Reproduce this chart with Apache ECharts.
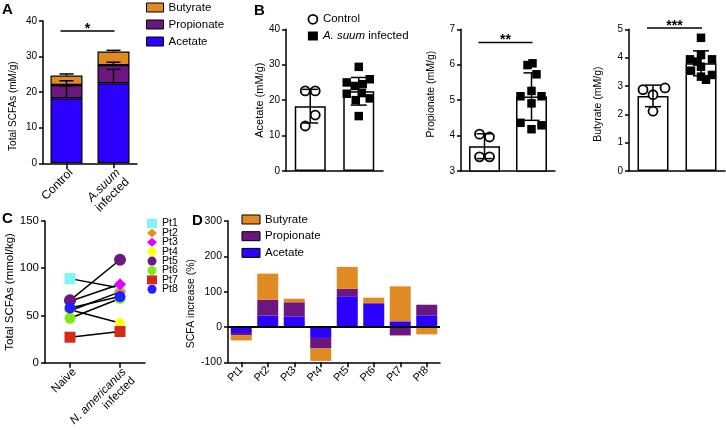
<!DOCTYPE html>
<html><head><meta charset="utf-8">
<script src="https://cdn.jsdelivr.net/npm/echarts@6/dist/echarts.min.js"></script>
<style>html,body{margin:0;padding:0;background:#fff}#c{width:726px;height:430px}</style>
</head><body><div id="c"></div>
<script>
const FONT = "'Liberation Sans', Arial, Helvetica, sans-serif";

// ---------- Panel A: stacked means (mM/g) ----------
const groupsA = ['Control', 'A.suum infected'];
const acetateA = [18.3, 22.5];
const propionateA = [3.7, 5.1];
const butyrateA = [2.65, 3.8];
const acetateErrA = [3.5, 3.9];
const propionateErrA = [1.2, 0.8];
const butyrateErrA = [0.45, 0.35];

// ---------- Panel B: individual values ----------
const groupsB = ['Control', 'A. suum infected'];
const acetateCtrl = [22.6, 22.6, 15.8, 12.7];
const acetateInf = [29.4, 25.9, 25.0, 24.0, 24.5, 21.8, 22.0, 20.0, 20.5, 15.5];
const acetateMean = [18.3, 22.5];
const acetateSD = [4.75, 3.9];
const propionateCtrl = [4.04, 3.96, 3.40, 3.40];
const propionateInf = [5.99, 6.04, 5.73, 5.26, 5.11, 5.11, 4.91, 4.36, 4.29, 4.18];
const propionateMean = [3.7, 5.1];
const propionateSD = [0.35, 0.67];
const butyrateCtrl = [2.87, 2.93, 2.69, 2.11];
const butyrateInf = [4.70, 4.09, 3.94, 3.94, 3.86, 3.68, 3.54, 3.39, 3.33, 3.22];
const butyrateMean = [2.65, 3.8];
const butyrateSD = [0.38, 0.44];

// ---------- Panel C ----------
const patients = ['Pt1', 'Pt2', 'Pt3', 'Pt4', 'Pt5', 'Pt6', 'Pt7', 'Pt8'];
const groupsC = ['Naive', 'N. americanus infected'];
const naiveC = [89, 55, 65, 56, 66, 47, 27, 58];
const infectedC = [79, 75, 83, 42, 109, 68, 33, 70];

// ---------- Panel D (% increase) ----------
const acetateD = [-17, 32, 30, -31, 87, 66, 16, 33];
const propionateD = [-6, 45, 40, -30, 21, 2, -24, 30];
const butyrateD = [-15, 74, 10, -35, 62, 15, 99, -21];

// ---------- layout / style constants ----------
const COL = { Acetate: '#2B00FF', Propionate: '#6C1680', Butyrate: '#E08A24' };
const PT_STYLE = [
  ['rect', '#7FF5F5', 11], ['diamond', '#E8901E', 12], ['diamond', '#E600FF', 12], ['circle', '#FFFF1A', 10],
  ['circle', '#6A1A7E', 12], ['circle', '#80E81A', 11], ['rect', '#D42A1A', 11], ['circle', '#1F1FFF', 11]
];
// horizontal jitter (px) of the individual dots, column-scatter layout
const JIT = {
  acetate: [[-5, 5, 5, -5], [0, 11, -12, -4, 4, -12, 3, -3, 11, 0]],
  propionate: [[-5, 5, -5, 5], [-4, 1, 5, 0, -11, 10, 0, -11, 10, 0]],
  butyrate: [[-10, 12, 0, 0], [0, 0, -11, 11, -4, 0, -10, 11, 0, 5]]
};

const chart = echarts.init(document.getElementById('c'), null, { renderer: 'canvas' });

const grids = [
  { left: 43, top: 21, width: 94, height: 142.3 },
  { left: 286, top: 29.3, width: 97, height: 141.7 },
  { left: 461, top: 29.3, width: 94, height: 141.7 },
  { left: 629, top: 29.3, width: 96, height: 141.7 },
  { left: 45, top: 221, width: 100, height: 141.7 },
  { left: 228, top: 221, width: 212, height: 141.3 }
].map(g => Object.assign({ outerBoundsMode: 'none', containLabel: false }, g));

const axLine = { show: true, onZero: false, lineStyle: { color: '#000', width: 1.5 } };
const axTick = { show: true, length: 4, lineStyle: { color: '#000', width: 1.5 } };

function yAx(gi, min, max, interval, name, nameGap, nameSize, tickSize, padding) {
  return {
    type: 'value', gridIndex: gi, min, max, interval,
    axisLine: axLine, axisTick: axTick, splitLine: { show: false },
    axisLabel: { margin: 6, color: '#000', fontSize: tickSize, fontFamily: FONT },
    name, nameLocation: 'middle', nameRotate: 90, nameGap,
    nameTextStyle: { color: '#000', fontSize: nameSize, fontFamily: FONT, padding: padding || 0 }
  };
}
function richLbl(sz) {
  return {
    i: { fontStyle: 'italic', color: '#000', fontSize: sz, fontFamily: FONT, lineHeight: sz + 1 },
    n: { color: '#000', fontSize: sz, fontFamily: FONT, lineHeight: sz + 1 }
  };
}
function xCat(gi, data, withLabels, formatter, sz, vAlign, margin) {
  const ax = {
    type: 'category', gridIndex: gi, data,
    axisLine: axLine,
    axisTick: withLabels ? { show: true, alignWithLabel: true, length: 5, lineStyle: { color: '#000', width: 1.5 } } : { show: false },
    axisLabel: { show: false },
    splitLine: { show: false }
  };
  if (withLabels) {
    ax.axisLabel = { rotate: 45, margin, interval: 0, formatter, rich: richLbl(sz), color: '#000', fontSize: sz, fontFamily: FONT };
    if (vAlign) ax.axisLabel.verticalAlign = vAlign;
  }
  return ax;
}

const xAxes = [
  xCat(0, groupsA, true, v => v === 'A.suum infected' ? '{i|A.suum}\n{n|infected}' : '{n|' + v + '}', 12, 'top', 3),
  xCat(1, groupsB, false), xCat(2, groupsB, false), xCat(3, groupsB, false),
  xCat(4, groupsC, true, v => v === 'N. americanus infected' ? '{i|N. americanus}\n{n|infected}' : '{n|' + v + '}', 11.5, 'top', 3),
  xCat(5, patients, true, v => '{n|' + v + '}', 11, null, 6)
];
const yAxes = [
  yAx(0, 0, 40, 10, 'Total SCFAs (mM/g)', 25, 10, 10, [0, 28, 0, 0]),
  yAx(1, 0, 40, 10, 'Acetate (mM/g)', 19, 11, 10),
  yAx(2, 3, 7, 1, 'Propionate (mM/g)', 24, 10.5, 10, [0, 0, 0, 12]),
  yAx(3, 0, 5, 1, 'Butyrate (mM/g)', 25, 10.5, 10, [0, 8, 0, 0]),
  yAx(4, 0, 150, 50, 'Total SCFAs (mmol/kg)', 27, 11.5, 11.5),
  yAx(5, -100, 300, 100, 'SCFA increase (%)', 28, 10.5, 10.5, [0, 24, 0, 0])
];

function errRender(capW, capBottom) {
  return function (params, api) {
    const x = api.value(0), lo = api.value(1), hi = api.value(2);
    const p1 = api.coord([x, lo]), p2 = api.coord([x, hi]);
    const st = { stroke: '#000', lineWidth: 1.5 };
    const ch = [
      { type: 'line', shape: { x1: p1[0], y1: p1[1], x2: p2[0], y2: p2[1] }, style: st },
      { type: 'line', shape: { x1: p2[0] - capW / 2, y1: p2[1], x2: p2[0] + capW / 2, y2: p2[1] }, style: st }
    ];
    if (capBottom) ch.push({ type: 'line', shape: { x1: p1[0] - capW / 2, y1: p1[1], x2: p1[0] + capW / 2, y2: p1[1] }, style: st });
    return { type: 'group', children: ch };
  };
}

const series = [];
// Panel A stacked bars
[['Acetate', acetateA], ['Propionate', propionateA], ['Butyrate', butyrateA]].forEach(([n, d]) => {
  series.push({
    type: 'bar', name: n, stack: 'A', xAxisIndex: 0, yAxisIndex: 0, data: d, barWidth: 32,
    itemStyle: { color: COL[n], borderColor: '#000', borderWidth: 1.2 }, z: 2
  });
});
const errA = [];
for (let i = 0; i < groupsA.length; i++) {
  const t1 = acetateA[i], t2 = t1 + propionateA[i], t3 = t2 + butyrateA[i];
  errA.push([i, t1, t1 + acetateErrA[i]]);
  errA.push([i, t2, t2 + propionateErrA[i]]);
  errA.push([i, t3, t3 + butyrateErrA[i]]);
}
series.push({ type: 'custom', xAxisIndex: 0, yAxisIndex: 0, data: errA, encode: { x: 0, y: [1, 2] }, renderItem: errRender(14, false), z: 5, silent: true });

// Panel B
const bSets = [
  [1, acetateMean, acetateSD, acetateCtrl, acetateInf, JIT.acetate],
  [2, propionateMean, propionateSD, propionateCtrl, propionateInf, JIT.propionate],
  [3, butyrateMean, butyrateSD, butyrateCtrl, butyrateInf, JIT.butyrate]
];
bSets.forEach(([gi, mean, sd, ctrl, inf, jit]) => {
  series.push({
    type: 'bar', xAxisIndex: gi, yAxisIndex: gi, data: mean, barWidth: 31,
    itemStyle: { color: '#fff', borderColor: '#000', borderWidth: 1.5 }, z: 2, silent: true
  });
  series.push({
    type: 'scatter', name: 'Control', xAxisIndex: gi, yAxisIndex: gi,
    data: ctrl.map((v, k) => ({ value: [0, v], symbolOffset: [jit[0][k], 0] })),
    symbol: 'circle', symbolSize: 9, itemStyle: { color: '#fff', borderColor: '#000', borderWidth: 1.8, opacity: 1 }, z: 4
  });
  series.push({
    type: 'scatter', name: 'A. suum infected', xAxisIndex: gi, yAxisIndex: gi,
    data: inf.map((v, k) => ({ value: [1, v], symbolOffset: [jit[1][k], 0] })),
    symbol: 'rect', symbolSize: 8.5, itemStyle: { color: '#000', opacity: 1 }, z: 4
  });
  series.push({
    type: 'custom', xAxisIndex: gi, yAxisIndex: gi,
    data: mean.map((m, k) => [k, m - sd[k], m + sd[k]]), encode: { x: 0, y: [1, 2] },
    renderItem: errRender(16, true), z: 5, silent: true
  });
});

// Panel C
patients.forEach((p, i) => {
  series.push({
    type: 'line', name: p, xAxisIndex: 4, yAxisIndex: 4, data: [naiveC[i], infectedC[i]],
    symbol: PT_STYLE[i][0], symbolSize: PT_STYLE[i][2], showSymbol: true,
    itemStyle: { color: PT_STYLE[i][1], opacity: 1 }, lineStyle: { color: '#000', width: 1.5 }, z: 3 + i * 0.01
  });
});

// Panel D
[['Acetate', acetateD], ['Propionate', propionateD], ['Butyrate', butyrateD]].forEach(([n, d], idx) => {
  const s = {
    type: 'bar', name: n, stack: 'D', xAxisIndex: 5, yAxisIndex: 5, data: d, barWidth: 21,
    itemStyle: { color: COL[n] }, z: 2
  };
  if (idx === 0) {
    s.markLine = { symbol: 'none', silent: true, label: { show: false }, data: [{ yAxis: 0 }],
      lineStyle: { color: '#000', width: 2, type: 'solid' }, z: 10 };
  }
  series.push(s);
});

const legTxt = { color: '#000', fontSize: 11.5, fontFamily: FONT, lineHeight: 12 };
const legends = [
  { data: ['Butyrate', 'Propionate', 'Acetate'], orient: 'vertical', left: 146, top: 1.5, itemWidth: 17, itemHeight: 9, itemGap: 5,
    icon: 'rect', itemStyle: { borderColor: '#000', borderWidth: 1 }, textStyle: legTxt, selectedMode: false, padding: 0 },
  { data: [{ name: 'Control', icon: 'circle', itemStyle: { color: '#fff', borderColor: '#000', borderWidth: 1.8 } },
           { name: 'A. suum infected', icon: 'rect', itemStyle: { color: '#000' } }],
    orient: 'vertical', left: 307.5, top: 13.3, itemWidth: 10, itemHeight: 9, itemGap: 4.7, selectedMode: false, padding: 0,
    formatter: n => n === 'A. suum infected' ? '{i|A. suum} infected' : n,
    textStyle: Object.assign({}, legTxt, { rich: { i: { fontStyle: 'italic', color: '#000', fontSize: 11.5, fontFamily: FONT } } }) },
  { data: patients.map((p, i) => ({ name: p, icon: PT_STYLE[i][0], itemStyle: { color: PT_STYLE[i][1] } })),
    orient: 'vertical', left: 147, top: 218, itemWidth: 10, itemHeight: 9, itemGap: -1.6, selectedMode: false, padding: 0,
    textStyle: { color: '#000', fontSize: 10.5, fontFamily: FONT, lineHeight: 9 } },
  { data: ['Butyrate', 'Propionate', 'Acetate'], orient: 'vertical', left: 241.5, top: 213.5, itemWidth: 18, itemHeight: 9, itemGap: 4.7,
    icon: 'rect', itemStyle: { borderColor: '#000', borderWidth: 1 }, textStyle: legTxt, selectedMode: false, padding: 0 }
];

chart.setOption({
  animation: false,
  backgroundColor: '#fff',
  textStyle: { fontFamily: FONT },
  grid: grids, xAxis: xAxes, yAxis: yAxes, series, legend: legends
});

// annotations (panel letters + significance bars), positioned through the axes
const sig = [[0, 37.2, '*'], [2, 6.63, '**'], [3, 5.05, '***']];
const graphics = [
  ['A', 2, 2], ['B', 254, 3], ['C', 2, 211], ['D', 192, 213]
].map(([t, x, y]) => ({ type: 'text', left: x, top: y, style: { text: t, font: 'bold 15px ' + FONT, fill: '#000' } }));
sig.forEach(([gi, v, s]) => {
  const a = chart.convertToPixel({ gridIndex: gi }, [0, v]);
  const b = chart.convertToPixel({ gridIndex: gi }, [1, v]);
  graphics.push({ type: 'line', shape: { x1: a[0] - 6, y1: a[1], x2: b[0] + 1, y2: b[1] }, style: { stroke: '#000', lineWidth: 1.5 } });
  graphics.push({ type: 'text', x: (a[0] - 6 + b[0] + 1) / 2, y: a[1] - 2,
    style: { text: s, font: 'bold 14px ' + FONT, fill: '#000', textAlign: 'center', textVerticalAlign: 'middle' } });
});
chart.setOption({ graphic: graphics });
</script></body></html>
